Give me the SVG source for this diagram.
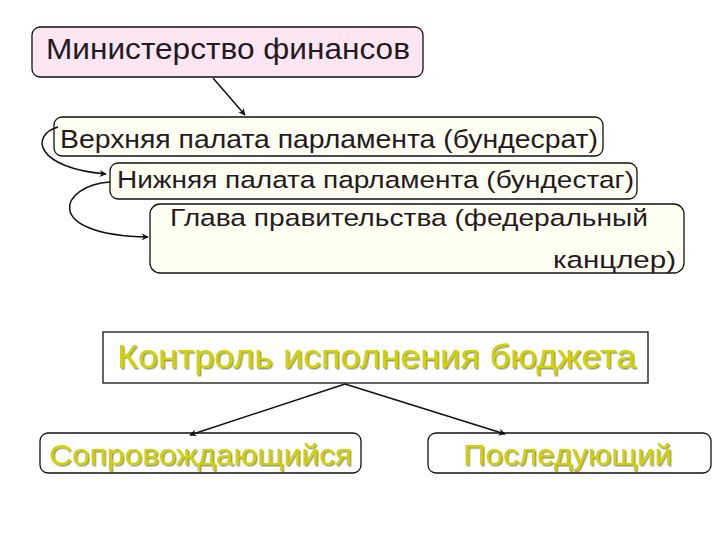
<svg xmlns="http://www.w3.org/2000/svg" width="720" height="540" viewBox="0 0 720 540">
<defs>
<style>
.t{font-family:"Liberation Sans",Arial,sans-serif;fill:#231a23;}
.box{fill:#fffff2;stroke:#111;stroke-width:1.3;}
.yel{fill:#d2d200;font-family:"Liberation Sans",Arial,sans-serif;filter:url(#sh);}
.conn{fill:none;stroke:#111;stroke-width:1.5;}
</style>
<filter id="sh" x="-5%" y="-20%" width="110%" height="140%">
<feDropShadow dx="1.5" dy="1.5" stdDeviation="0.6" flood-color="#5a5a10" flood-opacity="0.6"/>
</filter>
<marker id="ah" viewBox="0 0 10 10" refX="9" refY="5" markerWidth="7" markerHeight="7" orient="auto" markerUnits="userSpaceOnUse">
<path d="M0,0 L10,5 L0,10 L3,5 Z" fill="#111"/>
</marker>
</defs>
<rect width="720" height="540" fill="#fff"/>
<g id="n1">
<rect x="32" y="27" width="391" height="50" rx="8" fill="#fce6f2" stroke="#111" stroke-width="1.3"/>
<text class="t" x="46" y="59" font-size="29" textLength="364" lengthAdjust="spacingAndGlyphs">Министерство финансов</text>
</g>
<g id="n2">
<rect class="box" x="54" y="117" width="549" height="39" rx="8"/>
<text class="t" x="60" y="148" font-size="25" textLength="538" lengthAdjust="spacingAndGlyphs">Верхняя палата парламента (бундесрат)</text>
</g>
<g id="n3">
<rect class="box" x="110" y="163" width="527" height="36" rx="8"/>
<text class="t" x="117" y="188" font-size="24.5" textLength="517" lengthAdjust="spacingAndGlyphs">Нижняя палата парламента (бундестаг)</text>
</g>
<g id="n4">
<rect class="box" x="150" y="204" width="534" height="69" rx="10"/>
<text class="t" x="170" y="226" font-size="24.5" textLength="478" lengthAdjust="spacingAndGlyphs">Глава правительства (федеральный</text>
<text class="t" x="553" y="268" font-size="24.5" textLength="123" lengthAdjust="spacingAndGlyphs">канцлер)</text>
</g>
<g id="n5">
<rect x="103" y="332" width="545" height="51" fill="#fff" stroke="#111" stroke-width="1.3"/>
<text class="yel" x="117" y="368" font-size="33" textLength="519" lengthAdjust="spacingAndGlyphs">Контроль исполнения бюджета</text>
</g>
<g id="n6">
<rect x="40" y="433" width="321" height="40" rx="8" fill="#fff" stroke="#111" stroke-width="1.3"/>
<text class="yel" x="49" y="465" font-size="29" textLength="303" lengthAdjust="spacingAndGlyphs">Сопровождающийся</text>
</g>
<g id="n7">
<rect x="428" y="433" width="283" height="40" rx="8" fill="#fff" stroke="#111" stroke-width="1.3"/>
<text class="yel" x="463" y="465" font-size="29" textLength="209" lengthAdjust="spacingAndGlyphs">Последующий</text>
</g>
<g id="connectors">
<path class="conn" d="M213,78 L245,115" marker-end="url(#ah)"/>
<path class="conn" d="M58,127 C30,135 35,168 106,174" marker-end="url(#ah)"/>
<path class="conn" d="M110,182 C60,185 40,235 148,237" marker-end="url(#ah)"/>
<path class="conn" d="M345,384 L190,435" marker-end="url(#ah)"/>
<path class="conn" d="M345,384 L505,434" marker-end="url(#ah)"/>
</g>
</svg>
